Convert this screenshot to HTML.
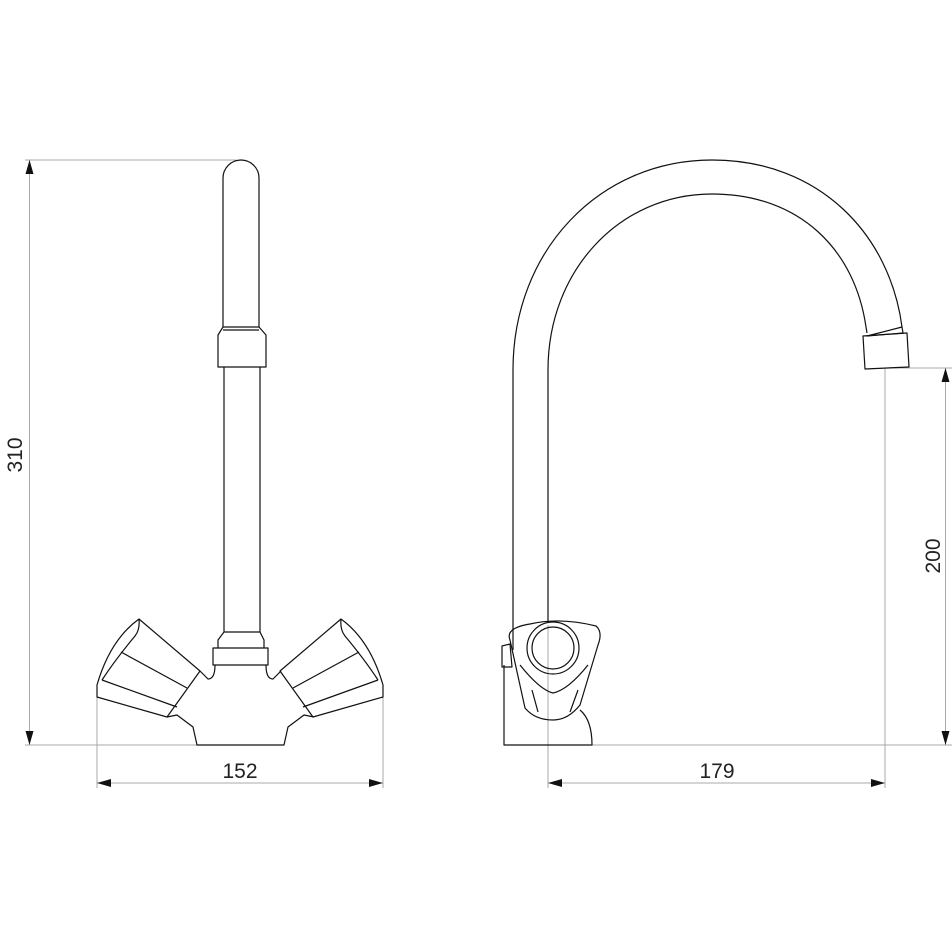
<!DOCTYPE html>
<html><head><style>body{margin:0;background:#fff}svg{display:block}text{font-family:"Liberation Sans","DejaVu Sans",sans-serif;font-size:21px;fill:#222}</style></head>
<body>
<svg width="952" height="952" viewBox="0 0 952 952" xmlns="http://www.w3.org/2000/svg">
<defs><marker id="a" markerWidth="14" markerHeight="8" refX="14" refY="4" orient="auto-start-reverse" markerUnits="userSpaceOnUse"><path d="M14,4 L0,0 L0,8 Z" fill="#111"/></marker></defs>
<g stroke="#aaa" stroke-width="1" fill="none">
<line x1="25" y1="160" x2="236" y2="160"/>
<line x1="25" y1="745" x2="200" y2="745"/>
<line x1="29.5" y1="160" x2="29.5" y2="745" marker-start="url(#a)" marker-end="url(#a)"/>
<line x1="97" y1="695" x2="97" y2="788"/>
<line x1="383" y1="695" x2="383" y2="788"/>
<line x1="97" y1="783" x2="383" y2="783" marker-start="url(#a)" marker-end="url(#a)"/>
<line x1="548" y1="625" x2="548" y2="788"/>
<line x1="885" y1="369" x2="885" y2="788"/>
<line x1="548" y1="783" x2="885" y2="783" marker-start="url(#a)" marker-end="url(#a)"/>
<line x1="885" y1="368" x2="952" y2="368"/>
<line x1="590" y1="745" x2="952" y2="745"/>
<line x1="945.5" y1="368" x2="945.5" y2="745" marker-start="url(#a)" marker-end="url(#a)"/>
</g>
<text x="240" y="778" text-anchor="middle">152</text>
<text x="717" y="778" text-anchor="middle">179</text>
<text transform="translate(22,455) rotate(-90)" text-anchor="middle">310</text>
<text transform="translate(940,556) rotate(-90)" text-anchor="middle">200</text>
<g stroke="#111" stroke-width="1.2" fill="none" stroke-linejoin="round">
<path d="M223,327 L223,178 A18,18 0 0 1 259,178 L259,327"/>
<path d="M223,327 L218,335 L218,367 L266,367 L266,335 L259,327 Z"/>
<line x1="223" y1="330" x2="259" y2="330"/>
<path d="M224,367 L224,632 M260,367 L260,632"/>
<path d="M224,632 L218,640 L218,648 L213,648 L213,665 L268,665 L268,648 L264,648 L264,640 L260,632 Z"/>
<line x1="218" y1="648" x2="264" y2="648"/>
<path d="M167,717 L177,715 L193,727 L197,745 L284,745 L288,727 L304,715 L314,717"/>
<path d="M200,671 L208,679 Q215,679 215,665 M281,671 L273,679 Q266,679 266,665"/>
<path d="M139,619 L200,671 L167,717 L97,697 L97,685 Q110,640 139,619 Z"/>
<path d="M139,619 Q140,630 135,636 Q115,660 102,680"/>
<path d="M121,652 L187,688 M102,680 L177,707"/>
<path d="M341,619 L280,671 L313,717 L383,697 L383,685 Q370,640 341,619 Z"/>
<path d="M341,619 Q340,630 345,636 Q365,660 378,680"/>
<path d="M359,652 L293,688 M378,680 L303,707"/>
<path d="M513,650 L513,370 C513,250 600,160 712,160 C820,160 890,235 902,327"/>
<path d="M548,622 L548,370 C548,270 620,194 712,194 C800,194 855,250 866,327"/>
<path d="M866,327 L867,333 M902,327 L903,333 L867,336 Z"/>
<path d="M863,336 L907,333 L909,367 L865,369 Z"/>
<path d="M504,665 L504,745 L592,745 Q592,720 580,710"/>
<path d="M502,646 L510,644 L512,667 L502,667 Z"/>
<path d="M510,640 Q505,628 530,624 Q560,617 596,626 Q603,632 598,645 L580,705 Q568,720 553,720 Q535,720 525,708 Z"/>
<path d="M520,665 Q540,690 553,693 Q568,690 588,665"/>
<path d="M532,690 L538,712 M578,690 L570,712"/>
<circle cx="553" cy="648" r="26"/>
<circle cx="553" cy="648" r="21"/>
</g>
</svg>
</body></html>
